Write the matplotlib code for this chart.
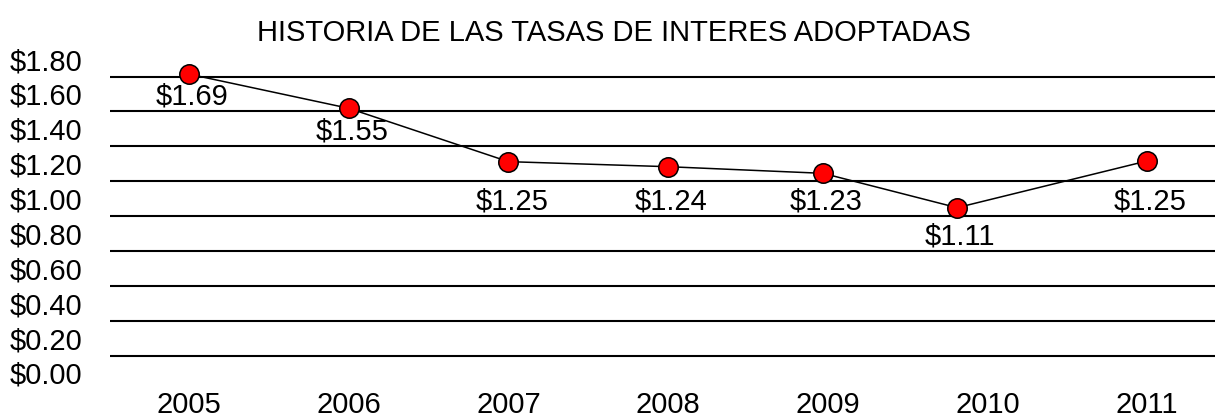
import matplotlib
matplotlib.use("Agg")
import matplotlib.pyplot as plt
import numpy as np

plt.rcParams['font.family'] = ['Liberation Sans', 'DejaVu Sans']

# Data
years = [2005, 2006, 2007, 2008, 2009, 2010, 2011]
x_dates = [2005.0, 2006.0, 2007.0, 2008.0, 2008.97, 2009.81, 2011.0]   # plotted positions
values = [1.714, 1.518, 1.212, 1.183, 1.145, 0.948, 1.216]              # plotted heights
point_labels = ["$1.69", "$1.55", "$1.25", "$1.24", "$1.23", "$1.11", "$1.25"]
y_ticks = [0.0, 0.2, 0.4, 0.6, 0.8, 1.0, 1.2, 1.4, 1.6, 1.8]
title = "HISTORIA DE LAS TASAS DE INTERES ADOPTADAS"

W, H = 1215, 420
fig = plt.figure(figsize=(W / 100, H / 100), dpi=100)
ax_left, ax_right, ax_top, ax_bottom = 110, 1215, 45, 385
ax = fig.add_axes([ax_left / W, 1 - ax_bottom / H, (ax_right - ax_left) / W, (ax_bottom - ax_top) / H])

FS = 21

# Gridlines midway between tick labels
for g in np.arange(0.1, 1.71, 0.2):
    ax.axhline(g, color='black', lw=1.5, zorder=1)

ax.plot(x_dates, values, color='black', lw=1.1, zorder=2,
        marker='o', markersize=14, markerfacecolor='#FF0000',
        markeredgecolor='black', markeredgewidth=1.1)

for xd, v, lab in zip(x_dates, values, point_labels):
    ly = np.floor((v - 0.1) / 0.2 + 1e-9) * 0.2
    ax.text(xd + 0.02, ly, lab, ha='center', va='center_baseline', fontsize=FS, zorder=3)

ax.set_xlim(2004.505, 2011.425)
ax.set_ylim(-0.069, 1.881)
ax.set_yticks(y_ticks)
ax.set_yticklabels([f"${t:.2f}" for t in y_ticks], fontsize=FS)
ax.set_xticks(years)
ax.set_xticklabels([str(y) for y in years], fontsize=FS)
ax.tick_params(axis='y', length=0, pad=20)
ax.tick_params(axis='x', length=0, pad=4)
for s in ax.spines.values():
    s.set_visible(False)

fig.text(614 / W, 1 - 33 / H, title, ha='center', va='center', fontsize=FS)

fig.savefig("out.png", dpi=100)
